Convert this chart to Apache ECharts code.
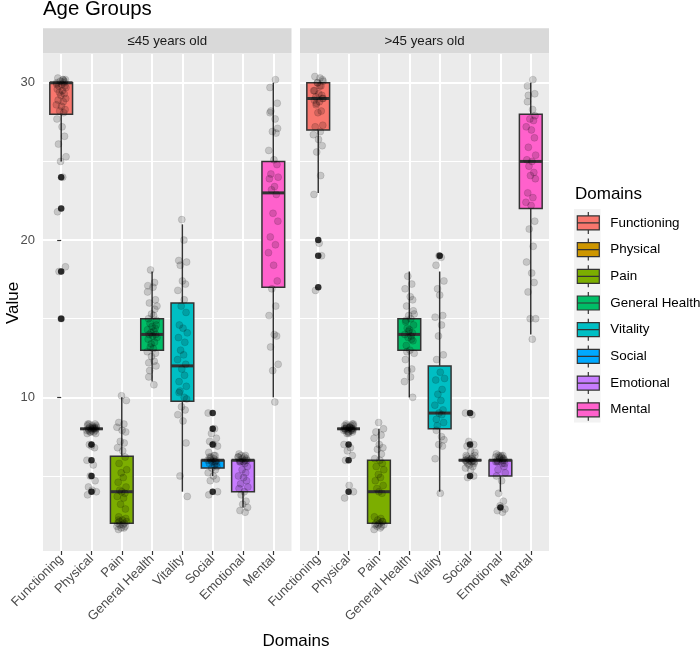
<!DOCTYPE html>
<html>
<head>
<meta charset="utf-8">
<script src="https://cdn.jsdelivr.net/npm/echarts@6/dist/echarts.min.js"></script>
<style>html,body{margin:0;padding:0;background:#fff}#c{width:700px;height:651px}</style>
</head>
<body>
<div id="c"></div>
<script>
const categories = ['Functioning','Physical','Pain','General Health','Vitality','Social','Emotional','Mental'];
const panels = ['\u226445 years old', '>45 years old'];
const colors = ['#F8766D','#CD9600','#7CAE00','#00BE67','#00BFC4','#00A9FF','#C77CFF','#FF61CC'];
const yMajorTicks = [10, 20, 30];
const yMinorTicks = [5, 15, 25];

// box statistics per domain: [lower whisker, Q1, median, Q3, upper whisker]
const boxLE45 = [[25,28,30,30,30],[8,8,8,8,8],[2,2,4,6.25,10],[11,13,14,15,18],[4,9.75,12,16,21],[5,5.5,6,6,6],[3,4,6,6,6],[10,17,23,25,30]];
const boxGT45 = [[23,27,29,30,30],[8,8,8,8,8],[2,2,4,6,8],[10,13,14,15,18],[4,8,9,12,18],[6,6,6,6,6],[4,5,6,6,6],[14,22,25,28,30]];

// outliers: [domain index, value]
const outLE45 = [[0,24],[0,22],[0,18],[0,15],[1,7],[1,6],[1,5],[1,4],[5,9],[5,8],[5,7],[5,4]];
const outGT45 = [[0,20],[0,19],[0,17],[1,7],[1,6],[1,4],[4,19],[5,9],[5,7],[5,5],[6,3]];

// jittered observations per domain
const ptsLE45 = [
  [30.3,30.2,30.2,30.1,30.0,30.0,29.9,29.8,29.8,29.7,29.6,29.5,29.4,29.3,29.2,29.0,28.9,28.8,28.6,28.5,28.3,28.2,28.1,27.7,27.2,26.6,26.1,25.3,25.0,24.0,21.8,18.3,18.0,15.0,30.1,29.9,30.2],
  [8.3,8.3,8.2,8.2,8.1,8.1,8.1,8.0,8.0,8.0,8.0,7.9,7.9,7.9,7.8,7.8,7.7,8.2,8.0,7.9,8.1,7.8,8.0,8.3,7.7,7.0,6.9,6.8,6.0,5.7,5.0,4.7,4.3,4.1,4.0,3.8],
  [10.1,9.8,8.4,8.3,8.1,7.9,7.8,7.2,7.1,6.8,6.6,6.2,5.8,5.4,5.2,4.9,4.6,4.3,4.1,4.0,3.9,3.7,3.6,3.2,2.9,2.4,2.2,2.1,2.0,2.0,1.9,1.9,1.8,1.8,1.7,1.7,2.2,2.3,2.1,1.6],
  [18.1,17.3,17.1,17.0,16.2,16.0,15.8,15.3,15.2,15.0,14.9,14.7,14.5,14.4,14.3,14.2,14.1,14.0,14.0,13.9,13.8,13.7,13.5,13.2,13.1,12.9,12.8,12.6,12.3,12.2,12.0,11.7,11.3,10.8,14.6,13.4,15.6,16.7],
  [21.3,20.0,18.7,18.6,18.4,17.4,17.2,16.8,16.2,15.8,15.4,14.6,14.4,14.1,13.8,13.5,13.0,12.7,12.4,12.1,11.8,11.4,11.0,10.7,10.4,10.3,10.0,9.9,9.4,9.2,8.9,8.5,7.1,5.0,3.7],
  [9.0,8.0,7.7,7.4,7.2,7.0,6.9,6.5,6.3,6.2,6.1,6.0,6.0,5.9,5.9,5.8,5.8,6.1,6.2,5.7,5.6,5.5,5.4,5.2,5.0,4.8,4.7,4.0,3.8,6.3,6.0,5.9],
  [6.4,6.3,6.3,6.2,6.2,6.1,6.1,6.0,6.0,6.0,5.9,5.9,5.8,5.6,5.4,5.2,5.0,4.9,4.7,4.5,4.3,4.2,4.0,3.8,3.4,3.2,3.0,2.8,2.7,6.2,5.9],
  [30.2,29.7,28.7,28.2,28.1,27.7,27.1,26.9,26.8,25.7,25.1,24.8,24.2,24.0,23.9,23.4,23.2,22.9,21.7,21.2,20.2,19.7,19.2,18.4,17.4,16.9,15.8,15.2,14.0,13.9,13.2,12.1,11.7,9.7]
];
const ptsGT45 = [
  [30.4,30.3,30.2,30.0,29.8,29.5,29.3,29.2,29.1,29.0,28.9,28.8,28.7,28.2,28.1,27.3,27.2,26.9,26.7,26.4,26.0,25.6,24.1,22.9,19.8,19.0,16.8,30.1,30.0,29.8,29.5,29.0,28.6],
  [8.3,8.3,8.2,8.2,8.1,8.1,8.0,8.0,8.0,7.9,7.9,7.9,7.8,7.8,7.7,8.2,8.0,8.1,7.9,8.0,8.3,7.8,8.1,8.0,7.9,8.2,7.7,8.0,7.0,6.8,6.6,6.3,6.0,4.4,4.0,3.6],
  [8.4,8.0,7.8,7.6,7.4,7.0,6.8,6.7,6.4,6.1,6.0,5.8,5.6,5.4,5.1,4.9,4.7,4.4,4.2,4.0,3.9,2.4,2.3,2.2,2.1,2.0,2.0,1.9,1.9,1.8,1.8,1.7,1.6,2.1,1.9],
  [17.7,17.2,16.9,16.4,16.2,15.8,15.3,15.2,15.0,14.8,14.6,14.4,14.3,14.1,14.0,13.9,13.8,13.6,13.3,13.0,12.8,12.4,11.8,11.7,11.3,11.0,10.0,14.2,13.7,14.9,15.5,12.9],
  [19.0,18.9,18.4,17.4,16.9,16.5,15.2,15.1,14.6,13.9,12.7,12.4,11.6,11.2,11.1,10.5,10.2,9.8,9.5,9.2,9.0,8.9,8.6,8.4,8.2,7.9,7.5,7.3,7.0,6.9,6.1,3.9],
  [9.0,8.9,7.2,7.0,6.9,6.6,6.5,6.3,6.2,6.1,6.1,6.0,6.0,6.0,5.9,5.9,5.8,5.8,6.2,6.1,5.9,5.7,5.6,5.5,5.4,5.0,4.9,6.3,6.0,5.9],
  [6.4,6.3,6.3,6.2,6.2,6.1,6.1,6.0,6.0,6.0,5.9,5.9,5.8,5.8,6.2,6.1,5.9,6.3,5.6,5.4,5.2,5.0,4.7,3.9,3.4,3.1,2.9,2.8,2.7],
  [30.2,29.8,29.3,29.2,28.8,28.3,27.9,27.7,27.6,27.2,27.0,26.5,25.9,25.4,25.1,25.0,24.7,24.3,24.1,23.9,23.0,22.7,22.4,22.2,21.2,20.7,19.6,18.6,17.9,17.3,16.7,15.0,15.0,13.7]
];

// horizontal jitter offsets (in category units)
const jitterX = [-0.11,0.06,0.14,-0.03,0.09,-0.15,0.02,0.12,-0.08,0.16,-0.13,0.04,-0.06,0.10,-0.01,0.15,-0.10,0.07,-0.16,0.01,0.13,-0.05,0.08,-0.14,0.03,0.11,-0.09,0.16,-0.02,0.05,-0.12,0.14,-0.07,0.00,0.10,-0.15,0.06,-0.04,0.12,-0.10,0.02,0.16,-0.13,0.08,-0.06,0.04,-0.16,0.11,-0.02,0.07,-0.11,0.13,-0.08];

const FONT = '"Liberation Sans", Arial, sans-serif';
const Y_MIN = 0.23, Y_MAX = 31.83;
const gridDefs = [{left: 43, width: 248.5}, {left: 300, width: 249}];
const boxData = [boxLE45, boxGT45];
const outData = [outLE45, outGT45];
const ptsData = [ptsLE45, ptsGT45];
const catIdx = categories.map((_, i) => i);

function renderBox(params, api) {
  const x = api.value(0);
  const pMin = api.coord([x, api.value(1)]);
  const pQ1 = api.coord([x, api.value(2)]);
  const pMed = api.coord([x, api.value(3)]);
  const pQ3 = api.coord([x, api.value(4)]);
  const pMax = api.coord([x, api.value(5)]);
  const half = api.size([0.75, 0], [x, api.value(3)])[0] / 2;
  const stroke = '#333333';
  const cx = pMed[0];
  return {
    type: 'group',
    children: [
      {type: 'line', shape: {x1: cx, y1: pMax[1], x2: cx, y2: pQ3[1]}, style: {stroke: stroke, lineWidth: 1.5}},
      {type: 'line', shape: {x1: cx, y1: pQ1[1], x2: cx, y2: pMin[1]}, style: {stroke: stroke, lineWidth: 1.5}},
      {type: 'rect', shape: {x: cx - half, y: pQ3[1], width: 2 * half, height: pQ1[1] - pQ3[1]}, style: {fill: api.visual('color'), stroke: stroke, lineWidth: 1.5}},
      {type: 'line', shape: {x1: cx - half, y1: pMed[1], x2: cx + half, y2: pMed[1]}, style: {stroke: stroke, lineWidth: 3}}
    ]
  };
}

const grids = [], xAxes = [], yAxes = [], series = [];
gridDefs.forEach((g, p) => {
  grids.push({left: g.left, width: g.width, top: 54, height: 497, show: true, backgroundColor: '#EBEBEB', borderWidth: 0});
  xAxes.push({
    type: 'value', gridIndex: p, min: -0.6, max: 7.6,
    axisLine: {show: false},
    axisTick: {show: true, customValues: catIdx, length: 4, lineStyle: {color: '#333333', width: 1.2}},
    axisLabel: {show: true, customValues: catIdx, formatter: v => categories[Math.round(v)], rotate: 45, margin: 6,
      fontSize: 13, color: '#4D4D4D', fontFamily: FONT},
    splitLine: {show: true, lineStyle: {color: '#FFFFFF', width: 2}}
  });
  yAxes.push({
    type: 'value', gridIndex: p, min: Y_MIN, max: Y_MAX,
    axisLine: {show: false},
    axisTick: {show: p === 0, customValues: yMajorTicks, length: 4, lineStyle: {color: '#333333', width: 1.2}},
    axisLabel: {show: p === 0, customValues: yMajorTicks, margin: 8, fontSize: 13, color: '#4D4D4D', fontFamily: FONT},
    splitLine: {show: true, lineStyle: {color: '#FFFFFF', width: 2}}
  });
  yAxes.push({
    type: 'value', gridIndex: p, min: Y_MIN, max: Y_MAX,
    axisLine: {show: false},
    axisTick: {show: false, customValues: yMinorTicks},
    axisLabel: {show: false, customValues: yMinorTicks},
    splitLine: {show: true, lineStyle: {color: '#FFFFFF', width: 1}}
  });
});

gridDefs.forEach((g, p) => {
  categories.forEach((name, c) => {
    series.push({
      name: name, type: 'custom', xAxisIndex: p, yAxisIndex: 2 * p,
      itemStyle: {color: colors[c]},
      encode: {x: 0, y: [1, 2, 3, 4, 5]},
      renderItem: renderBox,
      data: [[c].concat(boxData[p][c])],
      z: 2, silent: true
    });
  });
  series.push({
    name: 'outliers' + p, type: 'scatter', xAxisIndex: p, yAxisIndex: 2 * p,
    symbolSize: 6.5, itemStyle: {color: '#000000'}, z: 3, silent: true,
    data: outData[p]
  });
  const pts = [];
  ptsData[p].forEach((vals, c) => {
    vals.forEach((v, k) => {
      pts.push([c + jitterX[(k + c * 7) % jitterX.length], v]);
    });
  });
  series.push({
    name: 'points' + p, type: 'scatter', xAxisIndex: p, yAxisIndex: 2 * p,
    symbolSize: 7, itemStyle: {color: 'rgba(0,0,0,0.2)', borderColor: 'rgba(0,0,0,0.18)', borderWidth: 0.8},
    z: 4, silent: true, data: pts
  });
});

const graphics = [];
gridDefs.forEach((g, p) => {
  graphics.push({type: 'rect', left: g.left, top: 28.3, shape: {x: 0, y: 0, width: g.width, height: 25.2}, style: {fill: '#D9D9D9'}, z: 0});
  graphics.push({type: 'text', x: g.left + g.width / 2, y: 41, style: {text: panels[p], align: 'center', verticalAlign: 'middle', font: '13.3px ' + FONT, fill: '#1A1A1A'}, z: 1});
});
graphics.push({type: 'rect', left: 574, top: 209, shape: {x: 0, y: 0, width: 26.5, height: 213.6}, style: {fill: '#F2F2F2'}, z: 0});
graphics.push({type: 'text', x: 575, y: 194.5, style: {text: 'Domains', align: 'left', verticalAlign: 'middle', font: '17px ' + FONT, fill: '#000'}, z: 1});
graphics.push({type: 'text', x: 13, y: 303, rotation: Math.PI / 2, style: {text: 'Value', align: 'center', verticalAlign: 'middle', font: '17px ' + FONT, fill: '#000'}, z: 1});
graphics.push({type: 'text', x: 296, y: 641, style: {text: 'Domains', align: 'center', verticalAlign: 'middle', font: '17px ' + FONT, fill: '#000'}, z: 1});

const chart = echarts.init(document.getElementById('c'), null, {renderer: 'canvas'});
chart.setOption({
  animation: false,
  backgroundColor: '#FFFFFF',
  title: {text: 'Age Groups', left: 43, top: -1, padding: 0, textStyle: {fontSize: 20.4, fontWeight: 'normal', color: '#000', fontFamily: FONT}},
  legend: {
    data: categories, orient: 'vertical', left: 576.7, top: 211.3, padding: 0,
    itemWidth: 22, itemHeight: 22, itemGap: 3.5, selectedMode: false,
    icon: 'path://M11,0L11,4M0,4L22,4L22,18L0,18ZM0,11L22,11M11,18L11,22',
    itemStyle: {borderColor: '#333333', borderWidth: 1.2},
    textStyle: {fontSize: 13.4, color: '#000', fontFamily: FONT, padding: [0, 0, 0, 6]}
  },
  grid: grids, xAxis: xAxes, yAxis: yAxes, series: series, graphic: graphics
});
</script>
</body>
</html>
